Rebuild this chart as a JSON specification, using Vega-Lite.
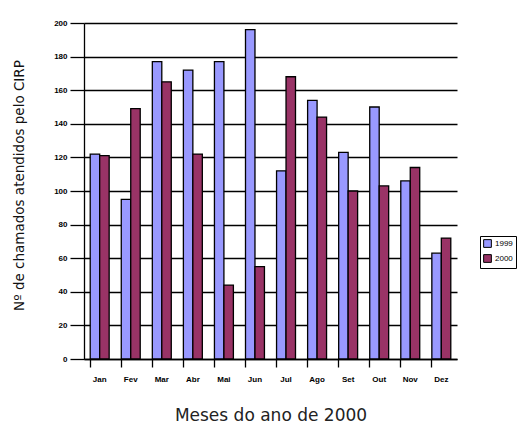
{
  "$schema": "https://vega.github.io/schema/vega-lite/v6.json",
  "width": 373,
  "height": 336,
  "padding": {"left": 84, "top": 23, "right": 75, "bottom": 73},
  "autosize": {"type": "none"},
  "background": "white",
  "config": {
    "view": {"stroke": null},
    "font": "Liberation Sans"
  },
  "data": {
    "values": [
      {"mes": "Jan", "ano": "1999", "v": 122}, {"mes": "Jan", "ano": "2000", "v": 121},
      {"mes": "Fev", "ano": "1999", "v": 95}, {"mes": "Fev", "ano": "2000", "v": 149},
      {"mes": "Mar", "ano": "1999", "v": 177}, {"mes": "Mar", "ano": "2000", "v": 165},
      {"mes": "Abr", "ano": "1999", "v": 172}, {"mes": "Abr", "ano": "2000", "v": 122},
      {"mes": "Mai", "ano": "1999", "v": 177}, {"mes": "Mai", "ano": "2000", "v": 44},
      {"mes": "Jun", "ano": "1999", "v": 196}, {"mes": "Jun", "ano": "2000", "v": 55},
      {"mes": "Jul", "ano": "1999", "v": 112}, {"mes": "Jul", "ano": "2000", "v": 168},
      {"mes": "Ago", "ano": "1999", "v": 154}, {"mes": "Ago", "ano": "2000", "v": 144},
      {"mes": "Set", "ano": "1999", "v": 123}, {"mes": "Set", "ano": "2000", "v": 100},
      {"mes": "Out", "ano": "1999", "v": 150}, {"mes": "Out", "ano": "2000", "v": 103},
      {"mes": "Nov", "ano": "1999", "v": 106}, {"mes": "Nov", "ano": "2000", "v": 114},
      {"mes": "Dez", "ano": "1999", "v": 63}, {"mes": "Dez", "ano": "2000", "v": 72}
    ]
  },
  "mark": {"type": "bar", "stroke": "black", "strokeWidth": 1.3},
  "encoding": {
    "x": {
      "field": "mes", "type": "nominal", "sort": null,
      "scale": {"paddingInner": 0.39, "paddingOuter": 0.2},
      "axis": {
        "title": "Meses do ano de 2000", "titleFont": "DejaVu Sans", "titleFontSize": 17, "titleFontWeight": "normal",
        "titleColor": "#222", "titleY": 56, "titleBaseline": "middle",
        "labelAngle": 0, "labelFontSize": 8, "labelFontWeight": "bold", "labelPadding": 8, "labelColor": "black",
        "tickSize": 8, "tickColor": "black", "tickWidth": 1.3, "bandPosition": 0,
        "domainColor": "black", "domainWidth": 1.3, "grid": false
      }
    },
    "xOffset": {"field": "ano", "type": "nominal", "scale": {"paddingInner": 0}},
    "y": {
      "field": "v", "type": "quantitative",
      "scale": {"domain": [0, 200], "nice": false},
      "axis": {
        "title": "Nº de chamados atendidos pelo CIRP", "titleFont": "DejaVu Sans", "titleFontSize": 13.5, "titleFontWeight": "normal", "titleColor": "#111",
        "titleX": -65, "titleY": 162, "titleAngle": -90, "titleBaseline": "middle", "titleAlign": "center",
        "values": [0, 20, 40, 60, 80, 100, 120, 140, 160, 180, 200],
        "labelFontSize": 8, "labelFontWeight": "bold", "labelColor": "black", "labelPadding": 3,
        "tickSize": 14, "tickColor": "black", "tickWidth": 1.3,
        "grid": true, "gridColor": "black", "gridOpacity": 1, "gridWidth": 1.3,
        "domainColor": "black", "domainWidth": 1.3
      }
    },
    "color": {
      "field": "ano", "type": "nominal",
      "scale": {"domain": ["1999", "2000"], "range": ["#9999ff", "#993366"]},
      "legend": {
        "title": null, "orient": "none", "legendX": 396, "legendY": 213,
        "strokeColor": "black", "padding": 3, "symbolType": "square", "symbolSize": 60,
        "symbolStrokeColor": "black", "symbolStrokeWidth": 1, "symbolOpacity": 1,
        "labelFontSize": 8, "labelColor": "black", "rowPadding": 2, "labelOffset": 3
      }
    }
  }
}
